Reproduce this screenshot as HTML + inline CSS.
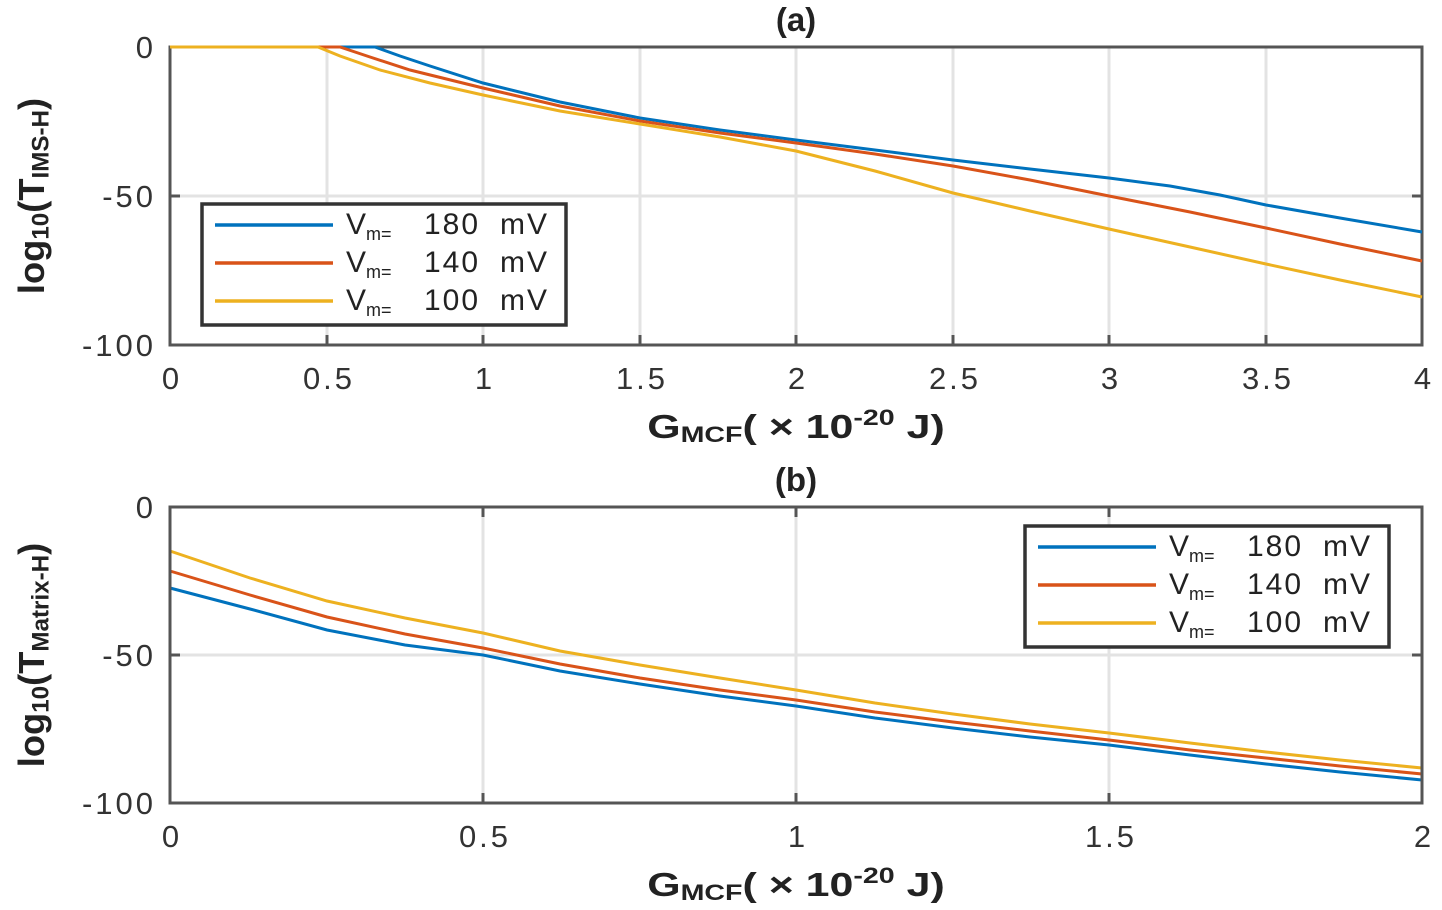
<!DOCTYPE html>
<html><head><meta charset="utf-8"><style>
html,body{margin:0;padding:0;background:#fff;}
svg{display:block;font-family:"Liberation Sans",sans-serif;}
.t{font-size:31px;fill:#333;letter-spacing:3px;}
.b{font-size:33px;font-weight:bold;fill:#222;}
.l{font-size:30px;fill:#222;}
.g{stroke:#e3e3e3;stroke-width:3;}
</style></head><body>
<svg width="1442" height="910" viewBox="0 0 1442 910">
<!-- Top plot -->
<g>
<line class="g" x1="327" y1="47" x2="327" y2="345"/><line class="g" x1="483" y1="47" x2="483" y2="345"/>
<line class="g" x1="640" y1="47" x2="640" y2="345"/><line class="g" x1="796" y1="47" x2="796" y2="345"/>
<line class="g" x1="953" y1="47" x2="953" y2="345"/><line class="g" x1="1109" y1="47" x2="1109" y2="345"/>
<line class="g" x1="1266" y1="47" x2="1266" y2="345"/><line class="g" x1="170" y1="196" x2="1422" y2="196"/>
<rect x="170" y="47" width="1252" height="298" fill="none" stroke="#555" stroke-width="3"/>
<polyline fill="none" stroke="#0072BD" stroke-width="3" points="170,47 375,47 400,56 430,66 483,83 560,102 640,118 720,130 796,140 875,150 953,160 1030,169 1109,178 1170,186 1220,195 1266,205 1340,218 1422,232"/>
<polyline fill="none" stroke="#D95319" stroke-width="3" points="170,47 340,47 370,57 410,70 483,88 560,106 640,121 720,133 796,143 875,154 953,166 1030,180 1109,196 1190,212 1266,228 1340,244 1422,261"/>
<polyline fill="none" stroke="#EDB120" stroke-width="3" points="170,47 318,47 340,56 380,70 430,83 483,95 560,111 640,124 720,137 796,151 875,171 953,193 1030,211 1109,229 1190,247 1266,264 1340,280 1422,297"/>
<g stroke="#555" stroke-width="3">
<line x1="327" y1="345" x2="327" y2="335"/><line x1="483" y1="345" x2="483" y2="335"/><line x1="640" y1="345" x2="640" y2="335"/><line x1="796" y1="345" x2="796" y2="335"/><line x1="953" y1="345" x2="953" y2="335"/><line x1="1109" y1="345" x2="1109" y2="335"/><line x1="1266" y1="345" x2="1266" y2="335"/>
<line x1="170" y1="196" x2="180" y2="196"/><line x1="1422" y1="196" x2="1412" y2="196"/>
</g>
<text class="t" x="156" y="58" text-anchor="end">0</text>
<text class="t" x="156" y="207" text-anchor="end">-50</text>
<text class="t" x="156" y="356" text-anchor="end">-100</text>
<g text-anchor="middle"><text class="t" x="172" y="389">0</text><text class="t" x="329" y="389">0.5</text><text class="t" x="485" y="389">1</text><text class="t" x="642" y="389">1.5</text><text class="t" x="798" y="389">2</text><text class="t" x="955" y="389">2.5</text><text class="t" x="1111" y="389">3</text><text class="t" x="1268" y="389">3.5</text><text class="t" x="1424" y="389">4</text></g>
<text class="b" x="796" y="31" text-anchor="middle">(a)</text>
<text class="b" transform="translate(796,438) scale(1.3,1)" text-anchor="middle">G<tspan font-size="22" dy="4">MCF</tspan><tspan dy="-4">( × 10</tspan><tspan font-size="22" dy="-13">-20</tspan><tspan dy="13"> J)</tspan></text>
<text class="b" transform="translate(44,196) rotate(-90) scale(1.1,1.1)" text-anchor="middle">log<tspan font-size="22" dy="4">10</tspan><tspan dy="-4">(T</tspan><tspan font-size="22" dy="4">IMS-H</tspan><tspan dy="-4">)</tspan></text>
<rect x="202" y="204" width="364" height="121" fill="#fff" stroke="#333" stroke-width="3.5"/>
<line x1="215" y1="225" x2="333" y2="225" stroke="#0072BD" stroke-width="3.5"/>
<line x1="215" y1="263" x2="333" y2="263" stroke="#D95319" stroke-width="3.5"/>
<line x1="215" y1="301" x2="333" y2="301" stroke="#EDB120" stroke-width="3.5"/>
<g class="l"><text x="346" y="234">V<tspan font-size="18" dy="6">m=</tspan></text><text x="424" y="234" letter-spacing="2">180</text><text x="500" y="234" letter-spacing="2">mV</text>
<text x="346" y="272">V<tspan font-size="18" dy="6">m=</tspan></text><text x="424" y="272" letter-spacing="2">140</text><text x="500" y="272" letter-spacing="2">mV</text>
<text x="346" y="310">V<tspan font-size="18" dy="6">m=</tspan></text><text x="424" y="310" letter-spacing="2">100</text><text x="500" y="310" letter-spacing="2">mV</text></g>
</g>
<!-- Bottom plot -->
<g>
<line class="g" x1="483" y1="507" x2="483" y2="803"/><line class="g" x1="796" y1="507" x2="796" y2="803"/><line class="g" x1="1109" y1="507" x2="1109" y2="803"/>
<line class="g" x1="170" y1="655" x2="1422" y2="655"/>
<polyline fill="none" stroke="#0072BD" stroke-width="3" points="170,588 250,609 327,630 405,645 483,655 560,671 640,684 720,696 796,706 875,718 953,728 1030,737 1109,745 1190,755 1266,764 1340,772 1422,780"/>
<polyline fill="none" stroke="#D95319" stroke-width="3" points="170,571 250,595 327,617 405,634 483,648 560,664 640,678 720,690 796,700 875,712 953,722 1030,731 1109,740 1190,750 1266,758 1340,766 1422,774"/>
<polyline fill="none" stroke="#EDB120" stroke-width="3" points="170,551 250,578 327,601 405,618 483,633 560,651 640,665 720,678 796,690 875,703 953,714 1030,724 1109,733 1190,743 1266,752 1340,760 1422,768"/>
<rect x="170" y="507" width="1252" height="296" fill="none" stroke="#555" stroke-width="3"/>
<g stroke="#555" stroke-width="3">
<line x1="483" y1="803" x2="483" y2="793"/><line x1="796" y1="803" x2="796" y2="793"/><line x1="1109" y1="803" x2="1109" y2="793"/>
<line x1="483" y1="507" x2="483" y2="517"/><line x1="796" y1="507" x2="796" y2="517"/><line x1="1109" y1="507" x2="1109" y2="517"/>
<line x1="170" y1="655" x2="180" y2="655"/><line x1="1422" y1="655" x2="1412" y2="655"/>
</g>
<text class="t" x="156" y="518" text-anchor="end">0</text>
<text class="t" x="156" y="666" text-anchor="end">-50</text>
<text class="t" x="156" y="814" text-anchor="end">-100</text>
<g text-anchor="middle"><text class="t" x="172" y="847">0</text><text class="t" x="485" y="847">0.5</text><text class="t" x="798" y="847">1</text><text class="t" x="1111" y="847">1.5</text><text class="t" x="1424" y="847">2</text></g>
<text class="b" x="796" y="491" text-anchor="middle">(b)</text>
<text class="b" transform="translate(796,896) scale(1.3,1)" text-anchor="middle">G<tspan font-size="22" dy="4">MCF</tspan><tspan dy="-4">( × 10</tspan><tspan font-size="22" dy="-13">-20</tspan><tspan dy="13"> J)</tspan></text>
<text class="b" transform="translate(44,655) rotate(-90) scale(1.1,1.1)" text-anchor="middle">log<tspan font-size="22" dy="4">10</tspan><tspan dy="-4">(T</tspan><tspan font-size="22" dy="4">Matrix-H</tspan><tspan dy="-4">)</tspan></text>
<rect x="1025" y="526" width="364" height="121" fill="#fff" stroke="#333" stroke-width="3.5"/>
<line x1="1038" y1="547" x2="1156" y2="547" stroke="#0072BD" stroke-width="3.5"/>
<line x1="1038" y1="585" x2="1156" y2="585" stroke="#D95319" stroke-width="3.5"/>
<line x1="1038" y1="623" x2="1156" y2="623" stroke="#EDB120" stroke-width="3.5"/>
<g class="l"><text x="1169" y="556">V<tspan font-size="18" dy="6">m=</tspan></text><text x="1247" y="556" letter-spacing="2">180</text><text x="1323" y="556" letter-spacing="2">mV</text>
<text x="1169" y="594">V<tspan font-size="18" dy="6">m=</tspan></text><text x="1247" y="594" letter-spacing="2">140</text><text x="1323" y="594" letter-spacing="2">mV</text>
<text x="1169" y="632">V<tspan font-size="18" dy="6">m=</tspan></text><text x="1247" y="632" letter-spacing="2">100</text><text x="1323" y="632" letter-spacing="2">mV</text></g>
</g>
</svg>
</body></html>
